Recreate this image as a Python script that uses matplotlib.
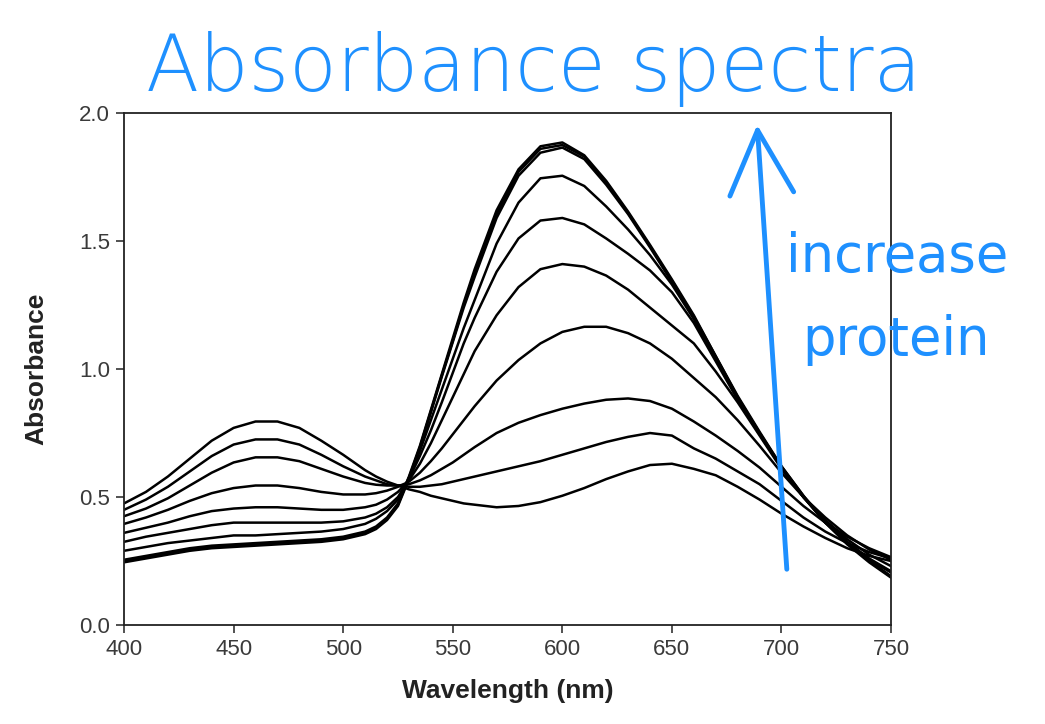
import matplotlib
matplotlib.use('Agg')
import matplotlib.pyplot as plt

# wavelengths sampled (nm); denser where the curves rise steeply
wavelength = [400, 410, 420, 430, 440, 450, 460, 470, 480, 490, 500,
              510, 515, 520, 525, 530, 535, 540, 545, 550, 555, 560,
              570, 580, 590, 600, 610, 620, 630, 640, 650, 660, 670, 680,
              690, 700, 710, 720, 730, 740, 750]

# absorbance, lowest to highest protein
abs_1 = [.475, .52, .58, .65, .72, .77, .795, .795, .77, .72, .665,
         .605, .58, .56, .545, .53, .52, .505, .495, .485, .475, .47,
         .46, .465, .48, .505, .535, .57, .60, .625, .63, .61, .585, .54,
         .49, .435, .385, .34, .30, .27, .25]
abs_2 = [.45, .49, .54, .60, .66, .705, .725, .725, .705, .665, .62,
         .58, .565, .55, .545, .54, .54, .545, .55, .56, .57, .58,
         .60, .62, .64, .665, .69, .715, .735, .75, .74, .69, .65, .60,
         .55, .485, .42, .365, .32, .285, .26]
abs_3 = [.425, .455, .495, .545, .595, .635, .655, .655, .64, .61, .58,
         .555, .548, .545, .545, .55, .565, .585, .61, .635, .665, .695,
         .75, .79, .82, .845, .865, .88, .885, .875, .845, .795, .74, .68,
         .615, .54, .465, .40, .345, .30, .265]
abs_4 = [.395, .42, .45, .485, .515, .535, .545, .545, .535, .52, .51,
         .51, .515, .525, .54, .56, .595, .64, .69, .745, .80, .855,
         .955, 1.035, 1.10, 1.145, 1.165, 1.165, 1.14, 1.10, 1.04, .965, .89, .80,
         .70, .595, .50, .42, .35, .295, .255]
abs_5 = [.36, .38, .40, .425, .445, .455, .46, .46, .455, .45, .45,
         .46, .47, .49, .52, .565, .63, .71, .80, .89, .98, 1.07,
         1.21, 1.32, 1.39, 1.41, 1.40, 1.365, 1.31, 1.24, 1.17, 1.10, .99, .87,
         .74, .61, .50, .41, .335, .275, .23]
abs_6 = [.325, .345, .36, .375, .39, .40, .40, .40, .40, .40, .405,
         .42, .435, .46, .50, .57, .66, .76, .87, .985, 1.10, 1.20,
         1.38, 1.51, 1.58, 1.59, 1.565, 1.51, 1.45, 1.385, 1.30, 1.18, 1.03, .88,
         .745, .615, .50, .405, .325, .26, .21]
abs_7 = [.29, .305, .32, .33, .34, .35, .35, .355, .36, .365, .375,
         .395, .415, .445, .49, .575, .68, .80, .92, 1.04, 1.16, 1.27,
         1.49, 1.65, 1.745, 1.755, 1.715, 1.635, 1.545, 1.445, 1.33, 1.195, 1.04, .885,
         .75, .615, .50, .40, .32, .255, .205]
abs_8 = [.245, .26, .275, .29, .30, .305, .31, .315, .32, .325, .335,
         .355, .375, .41, .465, .57, .69, .83, .97, 1.105, 1.24, 1.36,
         1.59, 1.755, 1.845, 1.865, 1.82, 1.72, 1.605, 1.475, 1.34, 1.20, 1.045, .89,
         .75, .615, .50, .40, .315, .245, .185]
abs_9 = [.25, .265, .28, .295, .305, .31, .315, .32, .325, .33, .34,
         .36, .38, .415, .47, .575, .695, .835, .975, 1.11, 1.25, 1.375,
         1.605, 1.77, 1.86, 1.875, 1.83, 1.73, 1.61, 1.48, 1.345, 1.205, 1.05, .89,
         .75, .62, .505, .40, .32, .25, .19]
abs_10 = [.255, .27, .285, .30, .31, .315, .32, .325, .33, .335, .345,
          .365, .385, .42, .475, .58, .70, .84, .98, 1.12, 1.26, 1.39,
          1.62, 1.78, 1.87, 1.885, 1.835, 1.735, 1.615, 1.485, 1.35, 1.21, 1.05, .895,
          .755, .62, .505, .405, .32, .25, .19]

spectra = [abs_1, abs_2, abs_3, abs_4, abs_5, abs_6, abs_7, abs_8, abs_9, abs_10]

xticks = [400, 450, 500, 550, 600, 650, 700, 750]
yticks = [0.0, 0.5, 1.0, 1.5, 2.0]

NARROW = ['Liberation Sans Narrow', 'Liberation Sans', 'DejaVu Sans']
INK = '#1e90ff'  # pen colour of the handwritten notes

fig = plt.figure(figsize=(10.45, 7.24), dpi=100)
ax = fig.add_axes([0.1187, 0.1367, 0.7340, 0.7072])

for spec in spectra:
    ax.plot(wavelength, spec, color='black', lw=1.8, solid_capstyle='round',
            solid_joinstyle='round')

ax.set_xlim(400, 750)
ax.set_ylim(0, 2.0)
ax.set_xticks(xticks)
ax.set_yticks(yticks)
ax.set_xticklabels([str(t) for t in xticks], family=NARROW, fontsize=16, color='#3a3a3a')
ax.set_yticklabels(['{:.1f}'.format(t) for t in yticks], family=NARROW, fontsize=16, color='#3a3a3a')
ax.tick_params(direction='out', length=6, width=1.2, color='#333333', pad=4)
for sp in ax.spines.values():
    sp.set_linewidth(1.3)
    sp.set_color('#222222')

ax.set_xlabel('Wavelength (nm)', family=NARROW, fontsize=19, fontweight='bold',
              color='#222222', labelpad=14)
ax.set_ylabel('Absorbance', family=NARROW, fontsize=19, fontweight='bold',
              color='#222222', labelpad=22)

# handwritten annotations
fig.text(0.14, 0.905, 'Absorbance spectra', color=INK, fontsize=56,
         family='DejaVu Sans', fontweight='light', va='center', ha='left')
fig.text(0.752, 0.645, 'increase', color=INK, fontsize=38,
         family='DejaVu Sans', va='center', ha='left')
fig.text(0.768, 0.53, 'protein', color=INK, fontsize=38,
         family='DejaVu Sans', va='center', ha='left')
ax.annotate('', xy=(757 / 1045, 1 - 122 / 724), xycoords='figure fraction',
            xytext=(787 / 1045, 1 - 572 / 724), textcoords='figure fraction',
            arrowprops=dict(arrowstyle='->, head_length=4.6, head_width=2.3',
                            mutation_scale=10, color=INK, lw=3.5,
                            capstyle='round'),
            annotation_clip=False)

fig.savefig('out.png', dpi=100)
